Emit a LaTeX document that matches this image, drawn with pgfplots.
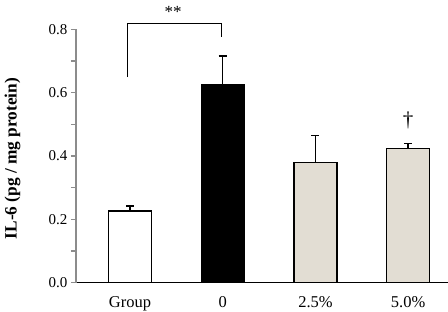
\documentclass[border=0pt]{standalone}
\usepackage{fontspec}
\setmainfont{Liberation Serif}
\usepackage{pgfplots}
\pgfplotsset{compat=1.18}
\definecolor{beige}{HTML}{E2DDD3}
\definecolor{axgray}{HTML}{8C8C8C}
\begin{document}
\begin{tikzpicture}
\begin{axis}[
  scale only axis, width=372pt, height=253.3pt,
  xmin=-0.583, xmax=3.43, ymin=0, ymax=0.8,
  axis lines*=left,
  clip=false,
  /pgf/number format/assume math mode=true,
  x axis line style={black, line width=1.2pt},
  y axis line style={axgray, line width=1.4pt},
  xtick={0,1,2,3}, xticklabels={Group,0,2.5\%,5.0\%},
  xtick style={draw=none},
  ytick={0,0.2,0.4,0.6,0.8}, minor ytick={0.1,0.3,0.5,0.7},
  ytick style={axgray, line width=1.2pt},
  tick align=outside, major tick length=5pt, minor tick length=5pt,
  yticklabel style={/pgf/number format/.cd, fixed, fixed zerofill, precision=1, /tikz/.cd, font=\fontsize{15}{15}\selectfont},
  xticklabel style={font=\fontsize{16.5}{16.5}\selectfont, anchor=base, yshift=-20pt},
  ylabel={IL-6 (pg / mg protein)},
  ylabel style={font=\bfseries\fontsize{17.3}{17.3}\selectfont, at={([xshift=-63.5pt]axis description cs:0,0.49)}, anchor=center},
  error bars/error bar style={line width=1.5pt, black},
  error bars/error mark options={rotate=90, mark size=4pt, line width=1.5pt, black},
]
\addplot[ybar, bar width=43pt, bar shift=0pt, fill=white, draw=black, line width=1.4pt,
  error bars/.cd, y dir=plus, y explicit] coordinates {(0,0.226) +- (0,0.017)};
\addplot[ybar, bar width=43pt, bar shift=0pt, fill=black, draw=black, line width=1.4pt,
  error bars/.cd, y dir=plus, y explicit] coordinates {(1,0.626) +- (0,0.090)};
\addplot[ybar, bar width=43pt, bar shift=0pt, fill=beige, draw=black, line width=1.4pt,
  error bars/.cd, y dir=plus, y explicit] coordinates {(2,0.380) +- (0,0.085)};
\addplot[ybar, bar width=43pt, bar shift=0pt, fill=beige, draw=black, line width=1.4pt,
  error bars/.cd, y dir=plus, y explicit] coordinates {(3,0.423) +- (0,0.017)};
\addplot[black, line width=1pt, sharp plot, mark=none] coordinates {(-0.03,0.649) (-0.03,0.819) (0.985,0.819) (0.985,0.777)};
\node[font=\fontsize{17}{17}\selectfont] at (axis cs:0.464,0.855) {**};
\node[font=\fontsize{21}{21}\selectfont] at (axis cs:3,0.514) {†};
\end{axis}
\pgfresetboundingbox
\path (-76pt,-29.3pt) rectangle (372pt,282.7pt);
\end{tikzpicture}
\end{document}
